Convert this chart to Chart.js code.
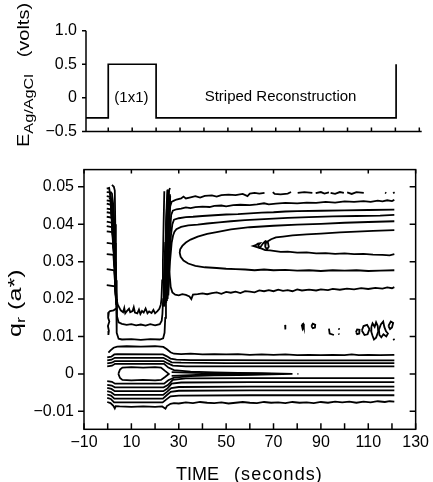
<!DOCTYPE html>
<html>
<head>
<meta charset="utf-8">
<script src="https://cdn.jsdelivr.net/npm/chart.js@4.4.0/dist/chart.umd.min.js"></script>
<style>
  body { margin: 0; background: #fff; }
  #wrap { position: relative; width: 433px; height: 482px; overflow: hidden;
          font-family: 'Liberation Sans', Arial, sans-serif; color: #000; }
  canvas { position: absolute; left: 0; }
  #potChart { top: 0; }
  #qChart { top: 150px; }
  .title { position: absolute; white-space: nowrap; font-size: 17px; line-height: 17px; }
  .rot { transform-origin: 0 0; }
  .title sub { font-size: 13px; vertical-align: -4px; line-height: 0; }
</style>
</head>
<body>
<div id="wrap">
  <canvas id="potChart" width="433" height="150"></canvas>
  <canvas id="qChart" width="433" height="332"></canvas>
  <div class="title rot" style="left:15px; top:147px; font-size:16px; transform: rotate(-90deg) scaleX(1.25);">E<sub>Ag/AgCl</sub>&nbsp;&nbsp;&nbsp;(volts)</div>
  <div class="title rot" style="left:6px; top:337px; font-size:18px; line-height:18px; transform: rotate(-90deg) scaleX(1.4);">q<sub>r</sub>&nbsp;(a*)</div>
  <div class="title" style="left:176px; top:465px; font-size:18px; line-height:18px;">TIME<span style="display:inline-block; width:15px"></span><span style="letter-spacing:1.1px">(seconds)</span></div>
</div>
<script>
// ---- top panel: electrode potential ----
const potTime = [-9.3, 0, 0, 20, 20, 120.3, 120.3];
const potVolts = [-0.3, -0.3, 0.5, 0.5, -0.3, -0.3, 0.5];
const voltTicks = [-0.5, 0, 0.5, 1.0];
const potNotes = [
    { text: '(1x1)', x: 9.7, y: 0 },
    { text: 'Striped Reconstruction', x: 72, y: 0.01 }
];

// ---- shared time axis ----
const timeTicks = [-10, 0, 10, 20, 30, 40, 50, 60, 70, 80, 90, 100, 110, 120, 130];
const timeLabels = [-10, 10, 30, 50, 70, 90, 110, 130];
const qTicks = [-0.01, 0, 0.01, 0.02, 0.03, 0.04, 0.05];

// ---- contour lines, [time, q] pairs ----
// upper (striped) group
const lineA = [[24.7,0.019],[25.3,0.030],[25.9,0.040],[26.4,0.0448],[27.0,0.0460],[28,0.0463],[29,0.0466],[31,0.0469],[32,0.0474],[33,0.0469],[35,0.0472],[37,0.0475],[39,0.0471],[41,0.0476],[44,0.0477],[46,0.0474],[48,0.0478],[51,0.0479],[54,0.0478],[57,0.0481],[59,0.0475],[60,0.0482],[62,0.0484],[64,0.0482],[66.2,0.0484]];
const lineADashes = [
    [[69.7,0.0486],[70.5,0.0481],[73,0.0480],[76,0.0482],[77.4,0.0486]],
    [[80.2,0.0484],[83,0.0486],[86.4,0.0484]],
    [[87.8,0.0483],[90,0.0486],[91.5,0.0482],[93.4,0.0485]],
    [[94.1,0.0484],[96,0.0481],[98,0.0486],[99.7,0.0484]],
    [[101.1,0.0485],[103,0.0481],[105,0.0486],[108.1,0.0484]],
    [[117.1,0.0485],[117.6,0.0483]],
    [[120.6,0.0486],[121,0.0482]]
];
const lineB = [[25.0,0.0195],[25.6,0.030],[26.3,0.038],[26.8,0.0425],[27.5,0.0436],[29,0.0440],[31,0.0442],[33,0.0445],[35,0.0443],[37,0.0446],[40,0.0447],[43,0.0446],[45,0.0449],[48,0.0450],[50,0.0448],[53,0.0451],[56,0.0452],[60,0.0451],[63,0.0453],[66,0.0456],[68,0.0453],[71,0.0455],[75,0.0457],[80,0.0456],[84,0.0458],[88,0.0457],[92,0.0460],[96,0.0458],[100,0.0461],[104,0.0460],[108,0.0462],[111,0.0460],[114,0.0463],[116,0.0461],[118,0.0464],[120,0.0462],[121,0.0465]];
const lineC = [[25.3,0.020],[26.0,0.030],[26.7,0.037],[27.3,0.0400],[28,0.0412],[30,0.0416],[33,0.0419],[36,0.0420],[40,0.0422],[45,0.0424],[50,0.0426],[55,0.0427],[60,0.0429],[65,0.0431],[70,0.0432],[75,0.0434],[80,0.0435],[90,0.0436],[100,0.0437],[110,0.0438],[121,0.0439]];
const lineD = [[25.6,0.021],[26.3,0.030],[27.0,0.035],[27.6,0.0370],[28.2,0.0380],[29,0.0387],[31,0.0393],[34,0.0397],[38,0.0399],[42,0.0402],[47,0.0405],[52,0.0408],[58,0.0411],[64,0.0413],[70,0.0415],[76,0.0417],[85,0.0419],[95,0.0421],[105,0.0422],[115,0.0423],[121,0.0425]];
const lineNose = [[121,0.0408],[110,0.0406],[100,0.0404],[90,0.0401],[80,0.0399],[70,0.0396],[60,0.0392],[52,0.0386],[46,0.0379],[42,0.0374],[38,0.0367],[35,0.0359],[33,0.0351],[31.5,0.0342],[30.6,0.0333],[30.4,0.0324],[30.8,0.0313],[32,0.0303],[34,0.0295],[37,0.0289],[41,0.0285],[46,0.0283],[50,0.0281],[54,0.0280],[58,0.0279],[62,0.0277],[66,0.0279],[70,0.0277],[75,0.0278],[80,0.0276],[85,0.0277],[90,0.0275],[95,0.0277],[100,0.0276],[105,0.0277],[110,0.0275],[115,0.0276],[121,0.0277]];
const lineInner = [[121,0.0384],[112,0.0382],[105,0.0380],[98,0.0378],[90,0.0375],[84,0.0373],[78,0.0370],[74,0.0367],[71,0.0365],[69,0.0360],[67.8,0.0355],[66.8,0.0350],[66.5,0.0340],[67.2,0.0333],[68,0.0340],[67.6,0.0352],[66.6,0.0355],[65.6,0.0349],[64.6,0.0340],[64.0,0.0337],[63.6,0.0344],[64.3,0.0349],[63.4,0.0348],[62.5,0.0344],[61.5,0.0342],[63,0.0339],[65,0.0335],[66.5,0.0331],[68.5,0.0330],[70,0.0329],[73,0.0326],[76,0.0327],[80,0.0324],[84,0.0325],[88,0.0322],[92,0.0323],[96,0.0321],[100,0.0322],[104,0.0320],[108,0.0321],[112,0.0319],[116,0.0318],[119,0.0317],[121,0.0320]];
const lineH = [[25.8,0.028],[26.3,0.0255],[26.6,0.0232],[27.3,0.0218],[28.5,0.0212],[30,0.0210],[31.5,0.0213],[33,0.0211],[34.5,0.0207],[35.3,0.0200],[36,0.0212],[38,0.0213],[40,0.0215],[42,0.0213],[44,0.0216],[46,0.0218],[48,0.0214],[50,0.0219],[52,0.0217],[54,0.0220],[56,0.0216],[58,0.0221],[60,0.0220],[62,0.0218],[64,0.0223],[66,0.0221],[68,0.0224],[70,0.0221],[72,0.0225],[74,0.0222],[76,0.0224],[78,0.0221],[80,0.0226],[82,0.0223],[85,0.0225],[88,0.0223],[90,0.0226],[93,0.0224],[95,0.0227],[98,0.0225],[101,0.0228],[104,0.0226],[107,0.0229],[110,0.0227],[113,0.0230],[116,0.0228],[118,0.0231],[120,0.0229],[121,0.0232]];

// U-shaped contours around the (1x1) interval
const loopU1 = [[1.8,0.0505],[2.6,0.0500],[3.0,0.0490],[3.2,0.040],[3.4,0.035],[3.5,0.030],[3.6,0.025],[3.8,0.020],[4.2,0.0186],[5.5,0.0170],[6.5,0.0165],[7,0.0176],[7.4,0.0162],[8,0.0167],[9,0.0174],[9.5,0.0165],[10.5,0.0168],[11,0.0178],[11.5,0.0164],[12.5,0.0162],[13.2,0.0172],[13.8,0.0160],[14.5,0.0168],[15.2,0.0164],[16,0.0175],[16.8,0.0162],[17.5,0.0167],[18.5,0.0163],[19.3,0.0171],[20,0.0162],[21,0.0168],[21.8,0.0174],[22.4,0.0185],[22.7,0.020],[23.0,0.025],[23.3,0.030],[23.6,0.040],[23.9,0.0488]];
const loopU2 = [[1.2,0.0487],[1.8,0.0482],[2.4,0.045],[2.8,0.040],[3.1,0.035],[3.3,0.030],[3.5,0.025],[3.7,0.020],[3.9,0.0155],[4.6,0.0138],[6,0.0134],[8,0.0131],[10,0.0133],[12,0.0130],[14,0.0132],[16,0.0129],[18,0.0133],[20,0.0130],[22,0.0133],[22.8,0.0142],[23.1,0.016],[23.4,0.020],[23.7,0.025],[24.0,0.030],[24.3,0.035],[24.6,0.040],[24.9,0.045],[25.2,0.0492]];
const loopU3 = [[0.6,0.0470],[1.3,0.0467],[2.2,0.045],[2.6,0.040],[2.9,0.035],[3.2,0.030],[3.4,0.025],[3.6,0.020],[3.7,0.015],[3.9,0.011],[4.6,0.0094],[6,0.0092],[10,0.0093],[14,0.0091],[18,0.0093],[22,0.0092],[23.4,0.0095],[24.0,0.011],[24.3,0.015],[24.6,0.020],[24.9,0.025],[25.2,0.030],[25.5,0.035],[25.8,0.040],[26.1,0.045],[26.3,0.0480]];
const leftBundle = [
    [[-0.4,0.0495],[0.6,0.0497],[1.3,0.047],[2.3,0.038],[3.1,0.027],[3.5,0.020]],
    [[-0.4,0.0486],[0.9,0.0485],[1.6,0.046],[2.6,0.035],[3.3,0.024],[3.6,0.0185]],
    [[-0.4,0.0475],[1.1,0.0473],[2.0,0.041],[2.9,0.030],[3.5,0.0215]],
    [[-0.4,0.0464],[1.2,0.0462],[2.7,0.033],[3.4,0.0225],[3.7,0.0185]],
    [[-0.4,0.0455],[1.3,0.0452],[2.2,0.040],[3.0,0.030],[3.6,0.0205]],
    [[-0.4,0.0442],[1.4,0.0440],[2.5,0.036],[3.2,0.026],[3.5,0.019]],
    [[-0.4,0.0432],[1.5,0.0430],[2.4,0.037],[3.3,0.026],[3.7,0.0195]],
    [[-0.4,0.0420],[1.6,0.0418],[2.8,0.032],[3.5,0.020]],
    [[-0.4,0.0407],[1.7,0.0404],[2.9,0.031],[3.4,0.021]],
    [[-0.4,0.0395],[1.8,0.0392],[2.7,0.034],[3.4,0.024],[3.8,0.019]],
    [[-0.4,0.0381],[1.9,0.0379],[3.0,0.029],[3.6,0.019]],
    [[-0.4,0.0350],[2.1,0.0348],[3.0,0.030],[3.6,0.022]],
    [[-0.4,0.0320],[2.4,0.0318],[3.2,0.025],[3.6,0.0195]],
    [[-0.4,0.0280],[2.7,0.0277],[3.4,0.022]],
    [[-0.4,0.0237],[3.0,0.0234],[3.5,0.020]]
];
const rightBundle = [
    [[23.6,0.018],[24.2,0.030],[24.8,0.042],[25.4,0.0493]],
    [[23.9,0.018],[24.5,0.030],[25.2,0.042],[25.8,0.0488],[26.3,0.0497]],
    [[24.0,0.0185],[24.7,0.032],[25.4,0.044],[25.9,0.0490]],
    [[24.3,0.019],[24.9,0.030],[25.5,0.040],[26.1,0.0470]],
    [[24.6,0.0195],[25.2,0.031],[25.8,0.041],[26.4,0.0475]]
];
const leftStep = [[3.6,0.0175],[2.5,0.0170],[1.0,0.0168],[0.5,0.0165],[0.2,0.0150],[0.7,0.0140],[0.1,0.0128],[0.5,0.0115],[0.3,0.0104]];

// lower (specular) group
const lowL1 = [[0.3,0.0057],[1.2,0.0063],[2.5,0.0070],[4,0.0073],[8,0.0074],[14,0.0073],[20,0.0074],[23.5,0.0072],[25,0.0066],[26.5,0.0058],[28,0.0054],[31,0.0053],[35,0.0054],[40,0.0052],[45,0.0053],[50,0.0052],[55,0.0053],[60,0.0051],[65,0.0052],[70,0.0051],[75,0.0052],[80,0.0050],[85,0.0051],[90,0.0050],[95,0.0051],[100,0.0050],[103,0.0052],[106,0.0050],[110,0.0051],[115,0.0050],[121,0.0051]];
const lowL2 = [[-0.2,0.0044],[1.5,0.0046],[2.8,0.0052],[4,0.0053],[23.3,0.0052],[25,0.0047],[26.5,0.0041],[29,0.0038],[35,0.0037],[50,0.0037],[80,0.0036],[121,0.0036]];
const lowL3 = [[-0.2,0.0036],[1.6,0.0038],[3,0.0043],[4,0.0043],[23.5,0.0043],[25.2,0.0037],[27,0.0031],[31,0.0030],[50,0.0029],[121,0.0029]];
const lowL4 = [[-0.2,0.0028],[1.7,0.0030],[3,0.0034],[23.6,0.0034],[25.4,0.0028],[27.5,0.0022],[33,0.0020],[60,0.0020],[121,0.0020]];
const lowWedge = [[-0.2,0.0020],[1.8,0.0022],[3.1,0.0027],[23.8,0.0027],[25.6,0.0017],[28,0.0010],[35,0.0006],[45,0.0004],[55,0.0003],[65,0.0002],[78,0.0000],[65,-0.0002],[55,-0.0003],[45,-0.0004],[35,-0.0006],[28,-0.0010],[25.6,-0.0017],[23.8,-0.0026],[3.1,-0.0026],[1.8,-0.0021],[-0.2,-0.0019]];
const lowWedgeCore = [[27,0.0005],[40,0.0002],[60,0.0001],[70,0.0000],[60,-0.0001],[40,-0.0002],[27,-0.0005]];
const lowDot = [[80.1,0.0000],[80.5,0.0000]];
const lowOval = [[4.5,0.0000],[5.2,0.0012],[6.2,0.0017],[10,0.0018],[15,0.0017],[20,0.0018],[22.5,0.0017],[24.2,0.0008],[25.8,0.0000],[24.2,-0.0008],[22.5,-0.0016],[20,-0.0017],[15,-0.0016],[10,-0.0017],[6.2,-0.0016],[5.2,-0.0011],[4.5,0.0000]];
const lowM2 = [[-0.2,-0.0029],[1.7,-0.0031],[3,-0.0036],[23.6,-0.0036],[25.4,-0.0030],[27.5,-0.0016],[33,-0.0012],[60,-0.0011],[121,-0.0011]];
const lowM3 = [[-0.2,-0.0037],[1.6,-0.0040],[3,-0.0046],[23.5,-0.0046],[25.2,-0.0039],[27,-0.0026],[31,-0.0023],[60,-0.0022],[121,-0.0022]];
const lowM4 = [[-0.2,-0.0046],[1.5,-0.0049],[2.9,-0.0056],[23.4,-0.0056],[25,-0.0048],[26.8,-0.0038],[30,-0.0035],[60,-0.0034],[121,-0.0034]];
const lowM5 = [[-0.2,-0.0055],[1.4,-0.0058],[2.8,-0.0066],[23.3,-0.0066],[24.9,-0.0057],[26.6,-0.0048],[30,-0.0045],[60,-0.0044],[121,-0.0044]];
const lowM6 = [[-0.2,-0.0064],[1.3,-0.0067],[2.7,-0.0076],[23.2,-0.0076],[24.8,-0.0068],[26.5,-0.0060],[30,-0.0058],[60,-0.0057],[121,-0.0057]];
const lowM7 = [[-0.2,-0.0075],[1.2,-0.0078],[2.4,-0.0085],[3.0,-0.0092],[3.4,-0.0086],[5,-0.0087],[10,-0.0088],[15,-0.0087],[20,-0.0088],[23,-0.0087],[24.4,-0.0093],[25,-0.0086],[26.5,-0.0080],[28,-0.0078],[30,-0.0079],[33,-0.0076],[36,-0.0078],[39,-0.0075],[42,-0.0077],[45,-0.0078],[48,-0.0076],[51,-0.0079],[54,-0.0077],[57,-0.0075],[60,-0.0077],[63,-0.0078],[66,-0.0075],[69,-0.0077],[72,-0.0076],[75,-0.0078],[78,-0.0075],[81,-0.0077],[84,-0.0076],[87,-0.0078],[90,-0.0075],[93,-0.0077],[96,-0.0074],[99,-0.0076],[102,-0.0074],[105,-0.0077],[108,-0.0074],[111,-0.0076],[114,-0.0073],[117,-0.0075],[119,-0.0073],[121,-0.0074]];

// small noisy islands around q = 0.011
const islands = [
    [[74.9,0.0131],[75.0,0.0119]],
    [[81.9,0.0131],[82.5,0.0134],[82.8,0.0126],[82.3,0.0120],[81.9,0.0131]],
    [[86.0,0.0128],[86.6,0.0134],[87.6,0.0131],[87.5,0.0124],[86.6,0.0122],[86.0,0.0128]],
    [[93.4,0.0121],[93.7,0.0108],[95.5,0.0104]],
    [[97.6,0.0122],[97.7,0.0118]],
    [[97.5,0.0108],[97.7,0.0105]],
    [[104.8,0.0112],[105.3,0.0119],[106.3,0.0118],[106.2,0.0108],[105.3,0.0106],[104.8,0.0112]],
    [[107.3,0.0116],[108,0.0128],[109.5,0.0131],[110.5,0.0120],[109.7,0.0106],[108.4,0.0104],[107.3,0.0116]],
    [[111.3,0.0126],[111.8,0.0135],[112.7,0.0126],[113.3,0.0138],[114,0.0128],[114.2,0.0113],[113.3,0.0097],[112.4,0.0092],[111.8,0.0102],[111.2,0.0114],[111.3,0.0126]],
    [[114.5,0.0118],[115.3,0.0132],[116.3,0.0140],[116.8,0.0125],[117.5,0.0114],[118.3,0.0108],[117.6,0.0100],[116.4,0.0106],[115.5,0.0098],[114.7,0.0104],[114.5,0.0118]],
    [[118.5,0.0128],[119.5,0.0140],[120.5,0.0136],[120.0,0.0124],[119.2,0.0120],[118.5,0.0128]],
    [[120.6,0.0094],[121,0.0090]]
];

const contours = [lineA, ...lineADashes, lineB, lineC, lineD, lineNose, lineInner, lineH,
    loopU1, loopU2, loopU3, ...leftBundle, ...rightBundle, leftStep,
    lowL1, lowL2, lowL3, lowL4, lowWedge, lowWedgeCore, lowDot, lowOval,
    lowM2, lowM3, lowM4, lowM5, lowM6, lowM7, ...islands];

Chart.defaults.font.family = "'Liberation Sans', Arial, sans-serif";
Chart.defaults.color = '#000';

const minus = s => String(s).replace('-', '\u2212');

/* draws the open axes and inward ticks of the potential panel */
const potAxes = {
    id: 'potAxes',
    afterDraw(chart) {
        const { ctx, chartArea: a, scales: { x, y } } = chart;
        ctx.save();
        ctx.strokeStyle = '#000';
        ctx.lineWidth = 1.5;
        ctx.beginPath();
        ctx.moveTo(a.left, a.top);
        ctx.lineTo(a.left, a.bottom);
        ctx.lineTo(a.right, a.bottom);
        voltTicks.forEach(v => {
            const py = y.getPixelForValue(v);
            ctx.moveTo(a.left - 4, py);
            ctx.lineTo(a.left, py);
        });
        timeTicks.forEach(v => {
            if (v < 0) return;
            const px = x.getPixelForValue(v);
            ctx.moveTo(px, a.bottom);
            ctx.lineTo(px, a.bottom - 4);
        });
        ctx.stroke();
        ctx.font = "15px 'Liberation Sans', Arial, sans-serif";
        ctx.fillStyle = '#000';
        ctx.textAlign = 'center';
        ctx.textBaseline = 'middle';
        potNotes.forEach(n => ctx.fillText(n.text, x.getPixelForValue(n.x), y.getPixelForValue(n.y)));
        ctx.restore();
    }
};

/* box frame with ticks: outside on the left, inside elsewhere */
const frameTicks = {
    id: 'frameTicks',
    afterDraw(chart) {
        const { ctx, chartArea: a, scales: { x, y } } = chart;
        ctx.save();
        ctx.strokeStyle = '#000';
        ctx.lineWidth = 1.5;
        ctx.strokeRect(a.left, a.top, a.right - a.left, a.bottom - a.top);
        ctx.beginPath();
        qTicks.forEach(v => {
            const py = y.getPixelForValue(v);
            ctx.moveTo(a.left - 6, py); ctx.lineTo(a.left, py);
            ctx.moveTo(a.right - 6, py); ctx.lineTo(a.right, py);
        });
        timeTicks.forEach(v => {
            const px = x.getPixelForValue(v);
            ctx.moveTo(px, a.bottom); ctx.lineTo(px, a.bottom - 6);
        });
        timeLabels.forEach(v => {
            const px = x.getPixelForValue(v);
            ctx.moveTo(px, a.top); ctx.lineTo(px, a.top + 4);
        });
        ctx.stroke();
        ctx.restore();
    }
};

new Chart(document.getElementById('potChart'), {
    type: 'scatter',
    data: {
        datasets: [{
            data: potTime.map((t, i) => ({ x: t, y: potVolts[i] })),
            showLine: true,
            borderColor: '#000',
            borderWidth: 1.7,
            pointRadius: 0
        }]
    },
    options: {
        responsive: false,
        animation: false,
        events: [],
        layout: { padding: { top: 30.7, right: 11.3, left: 0, bottom: 0 } },
        plugins: { legend: { display: false }, tooltip: { enabled: false } },
        scales: {
            x: {
                type: 'linear', min: -9.3, max: 131,
                afterFit: s => { s.height = 14; },
                grid: { display: false, drawTicks: false },
                border: { display: false },
                ticks: { display: false }
            },
            y: {
                min: -0.5, max: 1.0,
                afterBuildTicks: s => { s.ticks = voltTicks.map(v => ({ value: v })); },
                afterFit: s => { s.width = 86; },
                grid: { display: false, drawTicks: false },
                border: { display: false },
                ticks: {
                    padding: 9, font: { size: 16 },
                    callback: v => v === 0 ? '0' : minus(v.toFixed(1))
                }
            }
        }
    },
    plugins: [potAxes]
});

new Chart(document.getElementById('qChart'), {
    type: 'scatter',
    data: {
        datasets: contours.map(c => ({
            data: c.map(p => ({ x: p[0], y: p[1] })),
            showLine: true,
            borderColor: '#000',
            borderWidth: 1.8,
            pointRadius: 0
        }))
    },
    options: {
        responsive: false,
        animation: false,
        events: [],
        layout: { padding: { top: 14, right: 14, left: 0, bottom: 0 } },
        plugins: { legend: { display: false }, tooltip: { enabled: false } },
        scales: {
            x: {
                type: 'linear', min: -10, max: 130,
                afterBuildTicks: s => { s.ticks = timeLabels.map(v => ({ value: v })); },
                afterFit: s => { s.height = 52.7; },
                grid: { display: false, drawTicks: false },
                border: { display: false },
                ticks: { padding: 4, font: { size: 16 }, maxRotation: 0, autoSkip: false, callback: v => minus(v) }
            },
            y: {
                min: -0.0148, max: 0.0546,
                afterBuildTicks: s => { s.ticks = qTicks.map(v => ({ value: v })); },
                afterFit: s => { s.width = 84; },
                grid: { display: false, drawTicks: false },
                border: { display: false },
                ticks: {
                    padding: 10, font: { size: 16 },
                    callback: v => v === 0 ? '0' : minus(v.toFixed(2))
                }
            }
        }
    },
    plugins: [frameTicks]
});
</script>
</body>
</html>
